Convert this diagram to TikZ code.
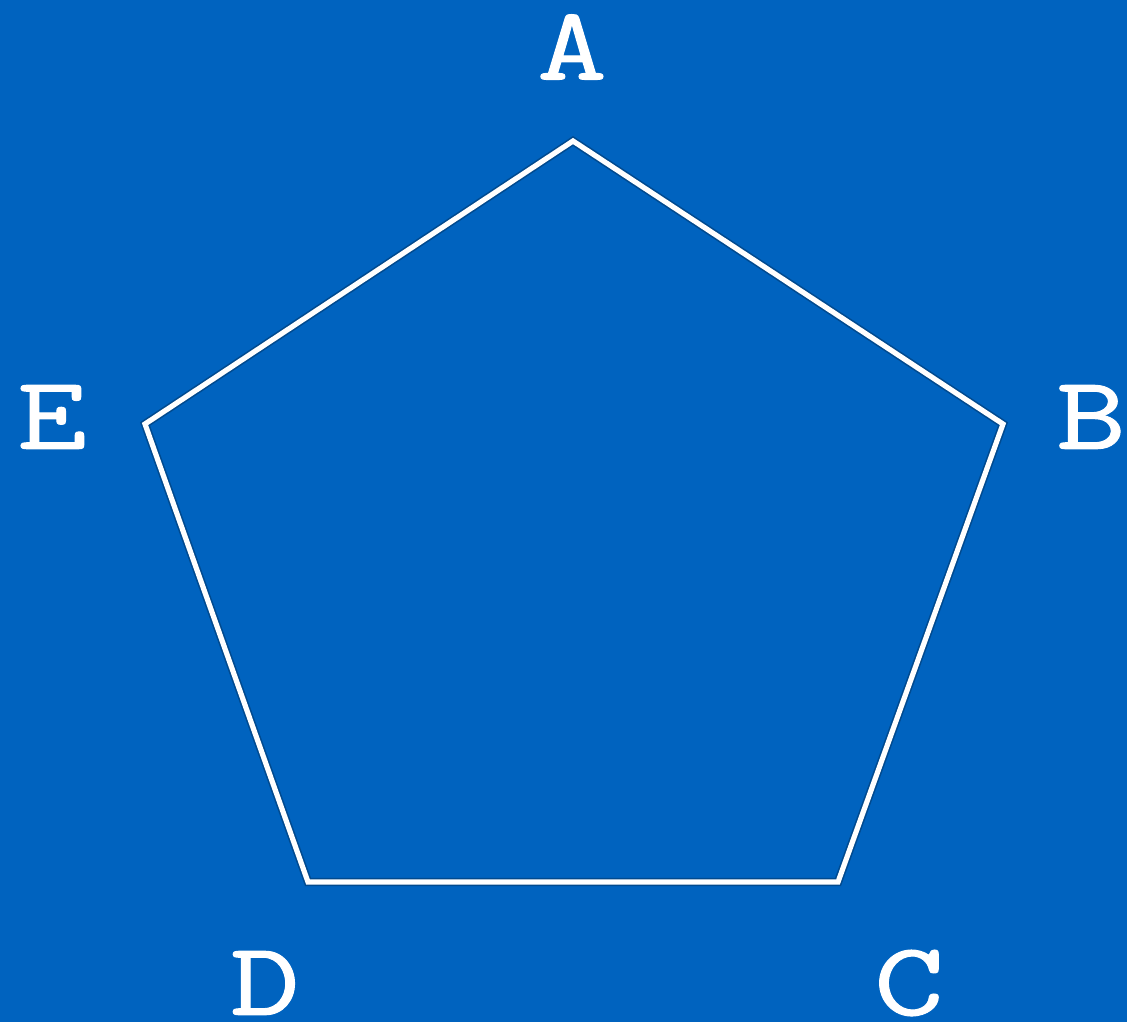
\documentclass[tikz,border=0pt]{standalone}
\usepackage{fontspec}
\newfontfamily\labelfont{Latin Modern Mono}[FakeBold=1.0,FakeStretch=1.3]
\definecolor{bgblue}{RGB}{0,99,191}
\tikzset{
  vlabel/.style={text=white, inner sep=0pt, font=\fontsize{52}{60}\selectfont\labelfont},
  edge/.style={draw=white, line width=2.6pt, line join=miter},
  edgeshadow/.style={draw=black, opacity=0.25, line width=4.2pt}
}
\begin{document}
\begin{tikzpicture}[x=0.5pt,y=-0.5pt]
\fill[bgblue] (0,0) rectangle (1127,1022);
\useasboundingbox (0,0) rectangle (1127,1022);
\coordinate (a) at (573,141);
\coordinate (b) at (1003,424);
\coordinate (c) at (838,882);
\coordinate (d) at (308,882);
\coordinate (e) at (145,424);
\draw[edgeshadow, yshift=-1pt] (a) -- (b) -- (c) -- (d) -- (e) -- cycle;
\draw[edge] (a) -- (b) -- (c) -- (d) -- (e) -- cycle;
\node[vlabel] (la) at (572,47) {A};
\node[vlabel] (lb) at (1091,417) {B};
\node[vlabel] (lc) at (909,983) {C};
\node[vlabel] (ld) at (265,983) {D};
\node[vlabel] (le) at (52,417) {E};
\end{tikzpicture}
\end{document}
